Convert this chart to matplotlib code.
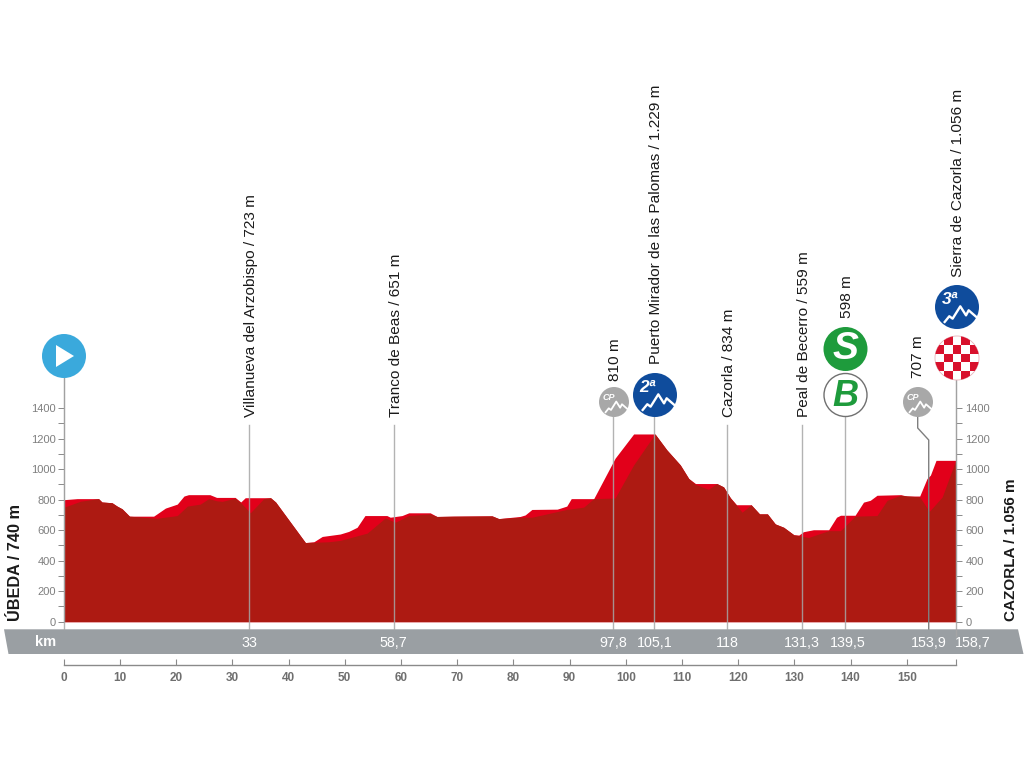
import matplotlib
matplotlib.use("Agg")
import matplotlib.pyplot as plt
from matplotlib.patches import Circle, Polygon, Rectangle

# profile outline (bright layer)
top_km = [0, 2.4, 6.2, 6.8, 8.6, 9.5, 10.4, 11.7, 16, 16.6, 18.1, 20.2, 21.4, 22.2, 26, 27.2, 30.5, 31.5, 32.3, 36.8,
          37.7, 43, 44.5, 46, 49.2, 50.7, 52.2, 53.6, 57.5, 58.1, 60.2, 61.4, 65.2, 66.4, 69.4, 76.2, 77.4, 81.2, 82.1,
          83.3, 87.8, 89.5, 90.3, 94.3, 98.1, 101.4, 105.2, 107.3, 109.7, 111.2, 112.4, 116.2, 117.4, 118.6, 119.7,
          122.3, 123.8, 125.2, 126.6, 128.1, 129.9, 130.8, 131.6, 133.4, 136.1, 137.5, 138.2, 140.8, 142.3, 143.5,
          144.7, 148.9, 150, 152.3, 153.6, 154.2, 155.2, 158.7]
top_m = [800, 807, 807, 785, 780, 758, 740, 692, 692, 707, 745, 771, 824, 833, 833, 815, 815, 785, 813, 813,
         785, 519, 524, 559, 575, 592, 619, 696, 696, 685, 696, 714, 714, 690, 692, 694, 676, 690, 700,
         736, 738, 758, 807, 807, 1072, 1231, 1231, 1127, 1028, 939, 906, 906, 884, 813, 767,
         767, 707, 707, 641, 619, 570, 568, 590, 603, 603, 685, 698, 698, 784, 796,
         829, 833, 824, 824, 939, 961, 1058, 1058]

# darker front layer
front_km = [0, 3, 6.2, 6.8, 8.6, 9.5, 10.4, 11.7, 16.6, 20.2, 22, 24.3, 25.8, 27.2, 28.2, 30.5, 31.5, 33.2, 35.6, 36.8,
            37.7, 43, 47.1, 49.2, 54, 57.2, 59, 61.4, 65.2, 66.4, 69.4, 76.2, 77.4, 81.2, 83.3, 89.5, 92.5, 94.3, 98.1,
            101.4, 105.2, 107.3, 109.7, 111.2, 112.4, 114.7, 116.2, 117.4, 118.6, 120.7, 122.3, 123.8, 125.2, 126.6,
            128.1, 129.9, 132.5, 136.1, 138.2, 140.8, 144.7, 146.5, 148.9, 152.3, 154, 156.3, 158.7]
front_m = [750, 790, 807, 785, 780, 758, 740, 692, 678, 696, 758, 771, 807, 793, 789, 810, 780, 714, 807, 813,
           785, 519, 524, 533, 581, 680, 652, 696, 707, 690, 692, 694, 676, 685, 685, 736, 751, 807, 811,
           1028, 1231, 1127, 1028, 939, 900, 868, 906, 884, 813, 718, 767, 707, 707, 641,
           619, 570, 552, 597, 597, 692, 696, 796, 829, 818, 723, 818, 1058]

y_major = [0, 200, 400, 600, 800, 1000, 1200, 1400]
y_minor = [100, 300, 500, 700, 900, 1100, 1300]
x_major = [0, 10, 20, 30, 40, 50, 60, 70, 80, 90, 100, 110, 120, 130, 140, 150]

# label centre along the band, in km of the drawn scale
band_km = [33, 58.7, 97.8, 105.1, 118, 131.3, 139.5, 153.9, 161.7]
band_labels = ["33", "58,7", "97,8", "105,1", "118", "131,3", "139,5", "153,9", "158,7"]

# text, km on the drawn scale, bottom of text in px
pass_labels = [("Villanueva del Arzobispo / 723 m", 33, 417),
               ("Tranco de Beas / 651 m", 58.7, 417),
               ("810 m", 97.8, 381),
               ("Puerto Mirador de las Palomas / 1.229 m", 105.1, 364),
               ("Cazorla / 834 m", 118, 417),
               ("Peal de Becerro / 559 m", 131.3, 417),
               ("598 m", 138.95, 318),
               ("707 m", 151.6, 378),
               ("Sierra de Cazorla / 1.056 m", 158.7, 277)]
# km on the drawn scale, top of the line in px
pass_lines = [(33, 425), (58.7, 425), (97.8, 417), (105.1, 417), (118, 425), (131.3, 425), (138.95, 417)]

W, H = 1024, 768
LEFT, RIGHT, Y0, Y_TOP = 63.7, 955.7, 621.7, 378.0
PX_PER_M = 0.1525
arial = ["Liberation Sans", "DejaVu Sans"]
GREY = "#9a9fa3"
TICK = "#8a8a8a"
BLUE = "#0f4c9c"
CP = "#a8a8a8"
GREEN = "#1e9b3c"

fig = plt.figure(figsize=(W / 100, H / 100), dpi=100)
ax = fig.add_axes([LEFT / W, 1 - Y0 / H, (RIGHT - LEFT) / W, (Y0 - Y_TOP) / H])
ax.set_xlim(0, 158.7)
ax.set_ylim(0, (Y0 - Y_TOP) / PX_PER_M)
ax.patch.set_alpha(0)

ax.fill_between(top_km, top_m, 0, color="#e2001a", lw=0)
ax.fill_between(front_km, front_m, 0, color="#ad1a12", lw=0)

ax.spines["top"].set_visible(False)
ax.spines["left"].set_color(TICK)
ax.spines["left"].set_linewidth(0.8)
ax.spines["right"].set_visible(False)
ax.spines["bottom"].set_position(("outward", 31.2))
ax.spines["bottom"].set_bounds(0, 158.7)
ax.spines["bottom"].set_color(TICK)
ax.spines["bottom"].set_linewidth(1)

ax.set_yticks(y_major)
ax.set_yticks(y_minor, minor=True)
ax.tick_params(axis="y", which="both", length=4, width=0.7, color=TICK, labelcolor="#7f7f7f", labelsize=8, pad=1.5)
for t in ax.get_yticklabels():
    t.set_family(arial)

ax.set_xticks(x_major + [158.7])
ax.set_xticklabels([str(v) for v in x_major] + [""], family=arial, weight="bold")
ax.tick_params(axis="x", direction="in", length=4, width=0.8, color=TICK, labelcolor="#6f6f6f", labelsize=8.5, pad=5)

axr = ax.twinx()
axr.set_ylim(ax.get_ylim())
axr.patch.set_alpha(0)
for s in ["top", "left", "bottom"]:
    axr.spines[s].set_visible(False)
axr.spines["right"].set_color(TICK)
axr.spines["right"].set_linewidth(0.8)
axr.set_yticks(y_major)
axr.set_yticks(y_minor, minor=True)
axr.tick_params(axis="y", which="both", length=4, width=0.7, color=TICK, labelcolor="#7f7f7f", labelsize=8, pad=3)
for t in axr.get_yticklabels():
    t.set_family(arial)

# overlay in pixel coordinates for band and icons
deco = fig.add_axes([0, 0, 1, 1], zorder=5)
deco.set_xlim(0, W)
deco.set_ylim(H, 0)
deco.axis("off")
deco.patch.set_alpha(0)


def km_px(km):
    return LEFT + km * (RIGHT - LEFT) / 158.7


deco.add_patch(Polygon([(4, 629.3), (1018, 629.3), (1023.5, 654), (8.5, 654)], color=GREY, lw=0, zorder=1))
deco.text(46, 642, "km", color="white", fontsize=10.5, weight="bold", family=arial, ha="center", va="center", zorder=3)
for km, lab in zip(band_km, band_labels):
    deco.text(km_px(km), 643, lab, color="white", fontsize=10.3, family=arial, ha="center", va="center", zorder=3)

line_kw = dict(color="#a6a6a6", lw=1.0, alpha=0.85, zorder=2)
deco.plot([LEFT, LEFT], [378, 629], **line_kw)
deco.plot([RIGHT, RIGHT], [380, 636], **line_kw)
for km, y in pass_lines:
    deco.plot([km_px(km)] * 2, [y, 629], **line_kw)
xc = km_px(153.9)
deco.plot([917.7, 917.7, xc, xc], [417, 428, 440, 629], color="#7f7f7f", lw=1.0, zorder=2)

for text, km, y in pass_labels:
    deco.text(km_px(km) + 2, y, text, rotation=90, ha="center", va="bottom", fontsize=11.1, color="#1a1a1a",
              family=arial, zorder=4)

deco.text(15.5, 621, "ÚBEDA / 740 m", rotation=90, ha="center", va="bottom", fontsize=11.7, weight="bold",
          family=arial, color="#1a1a1a")
deco.text(1011, 621, "CAZORLA / 1.056 m", rotation=90, ha="center", va="bottom", fontsize=11, weight="bold",
          family=arial, color="#1a1a1a")


def mountain(cx, cy, r, lw):
    shape_x = [-0.56, -0.35, -0.2, 0.15, 0.41, 0.53, 0.91]
    shape_y = [0.68, 0.42, 0.53, -0.03, 0.38, 0.15, 0.48]
    deco.plot([cx + r * v for v in shape_x], [cy + r * v for v in shape_y], color="white", lw=lw, zorder=7)


def badge(cx, cy, r, color, label, size, lw):
    deco.add_patch(Circle((cx, cy), r, color=color, lw=0, zorder=6))
    mountain(cx, cy, r, lw)
    deco.text(cx - r * 0.33, cy - r * 0.33, label, color="white", fontsize=size, style="italic", weight="bold",
              family=arial, ha="center", va="center", zorder=8)


# start
deco.add_patch(Circle((64, 356), 22, color="#3aa9dc", lw=0, zorder=6))
deco.add_patch(Polygon([(56, 345), (56, 367), (74, 356)], color="white", lw=0, zorder=7))

badge(614, 402, 15, CP, "CP", 6.5, 1.3)
badge(918, 402, 15, CP, "CP", 6.5, 1.3)
badge(655, 395, 22, BLUE, "2ª", 12.5, 1.7)
badge(957, 307, 22, BLUE, "3ª", 12.5, 1.7)

# sprint and bonus
deco.add_patch(Circle((845.5, 349), 22, color=GREEN, lw=0, zorder=6))
deco.text(845.5, 349, "S", color="white", fontsize=28, weight="bold", style="italic", family=arial,
          ha="center", va="center", zorder=7)
deco.add_patch(Circle((845.5, 395), 21.5, facecolor="white", edgecolor="#707070", lw=1, zorder=6))
deco.text(845.5, 396, "B", color=GREEN, fontsize=26, weight="bold", style="italic", family=arial,
          ha="center", va="center", zorder=7)

# finish flag
clip = Circle((957, 358), 22, transform=deco.transData)
deco.add_patch(Circle((957, 358), 22, facecolor="white", edgecolor="#e8b0b8", lw=0.6, zorder=6))
size = 8.8
for i in range(-2, 3):
    for j in range(-2, 3):
        if (i + j) % 2 != 0:
            sq = Rectangle((957 + (i - 0.5) * size, 358 + (j - 0.5) * size), size, size, color="#d8102c", lw=0, zorder=7)
            deco.add_patch(sq)
            sq.set_clip_path(clip)

fig.savefig("out.png", dpi=100)
